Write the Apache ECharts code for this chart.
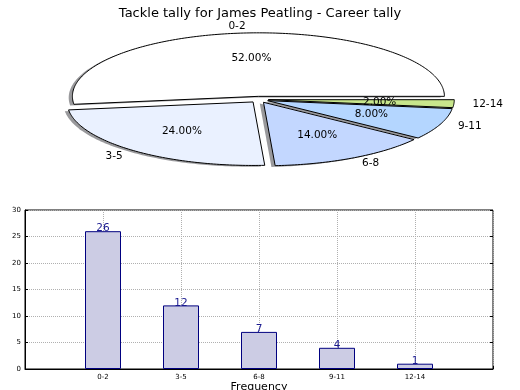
<!DOCTYPE html>
<html>
<head>
<meta charset="utf-8">
<script src="https://cdn.jsdelivr.net/npm/echarts@6/dist/echarts.min.js"></script>
<style>html,body{margin:0;padding:0;background:#fff}#c{width:520px;height:390px}</style>
</head>
<body>
<div id="c"></div>
<script>
// ---- data ----
const categories = ['0-2', '3-5', '6-8', '9-11', '12-14'];
const counts = [26, 12, 7, 4, 1];
const pieShares = [52, 24, 14, 8, 2];
const yTicks = [0, 5, 10, 15, 20, 25, 30];

// ---- styles ----
const pieColors = ['#ffffff', '#eaf1ff', '#c3d7ff', '#b4d6ff', '#c8e68c'];
const FONT = '"DejaVu Sans", sans-serif';
const EXPLODE = 0.05;

const total = pieShares.reduce((a, b) => a + b, 0);
function wedgeAngles(i) {
  let before = 0;
  for (let k = 0; k < i; k++) before += pieShares[k];
  const a0 = before / total * 2 * Math.PI;
  const a1 = (before + pieShares[i]) / total * 2 * Math.PI;
  return [a0, a1, (a0 + a1) / 2];
}
function wedgePoints(api, i, dx, dy) {
  const [a0, a1, m] = wedgeAngles(i);
  const ox = EXPLODE * Math.cos(m) + dx, oy = EXPLODE * Math.sin(m) + dy;
  const pts = [api.coord([ox, oy])];
  const n = Math.max(4, Math.ceil((a1 - a0) / (Math.PI / 180)));
  for (let s = 0; s <= n; s++) {
    const a = a0 + (a1 - a0) * s / n;
    pts.push(api.coord([ox + Math.cos(a), oy + Math.sin(a)]));
  }
  return pts;
}
const pieData = pieShares.map((v, i) => ({ value: [0, 0, v], name: categories[i] }));

const chart = echarts.init(document.getElementById('c'), null, { renderer: 'canvas' });
chart.setOption({
  animation: false,
  title: {
    text: 'Tackle tally for James Peatling - Career tally',
    left: 'center', top: 2,
    textStyle: { fontFamily: FONT, fontSize: 13, fontWeight: 'normal', color: '#000' }
  },
  grid: [
    { left: 73, top: 36, width: 372, height: 127, show: false, outerBoundsMode: 'none', containLabel: false },
    { left: 25, top: 210, width: 468, height: 159, show: true, borderColor: '#000', borderWidth: 1, backgroundColor: 'transparent', outerBoundsMode: 'none', containLabel: false }
  ],
  xAxis: [
    { gridIndex: 0, type: 'value', min: -1, max: 1, show: false },
    {
      gridIndex: 1, type: 'value', min: -1, max: 5, interval: 1,
      name: 'Frequency', nameLocation: 'middle', nameGap: 12,
      nameTextStyle: { fontFamily: FONT, fontSize: 11, color: '#000' },
      axisLine: { show: true, onZero: false, lineStyle: { color: '#000', width: 1 } },
      axisTick: { show: true, inside: true, length: 3, lineStyle: { color: '#000' } },
      axisLabel: {
        margin: 5, fontFamily: FONT, fontSize: 7, color: '#000',
        formatter: v => (categories[v] !== undefined ? categories[v] : '')
      },
      splitLine: { show: true, lineStyle: { type: 'dotted', color: '#b0b0b0', width: 1 } }
    }
  ],
  yAxis: [
    { gridIndex: 0, type: 'value', min: -1, max: 1, show: false },
    {
      gridIndex: 1, type: 'value', min: yTicks[0], max: yTicks[yTicks.length - 1], interval: 5,
      name: 'Stat Intervals', nameLocation: 'middle', nameGap: 13, nameRotate: 90,
      nameTextStyle: { fontFamily: FONT, fontSize: 11, color: '#000' },
      axisLine: { show: true, onZero: false, lineStyle: { color: '#000', width: 1 } },
      axisTick: { show: true, inside: true, length: 3, lineStyle: { color: '#000' } },
      axisLabel: { margin: 4, fontFamily: FONT, fontSize: 7, color: '#000' },
      splitLine: { show: true, lineStyle: { type: 'dotted', color: '#b0b0b0', width: 1 } }
    },
    {
      gridIndex: 1, type: 'value', min: 0, max: 30, interval: 5, position: 'right',
      axisLine: { show: false, onZero: false }, axisLabel: { show: false },
      axisTick: { show: true, inside: true, length: 3, lineStyle: { color: '#000' } },
      splitLine: { show: false }
    }
  ],
  series: [
    {
      type: 'custom', xAxisIndex: 0, yAxisIndex: 0, data: pieData, z: 1,
      renderItem: (params, api) => ({
        type: 'polygon',
        shape: { points: wedgePoints(api, params.dataIndex, -0.02, -0.02) },
        style: { fill: 'rgba(70,70,75,0.55)', stroke: null }
      })
    },
    {
      type: 'custom', xAxisIndex: 0, yAxisIndex: 0, data: pieData, z: 2,
      renderItem: (params, api) => ({
        type: 'polygon',
        shape: { points: wedgePoints(api, params.dataIndex, 0, 0) },
        style: { fill: pieColors[params.dataIndex], stroke: '#000', lineWidth: 1 }
      })
    },
    {
      type: 'custom', xAxisIndex: 0, yAxisIndex: 0, data: pieData, z: 3,
      renderItem: (params, api) => {
        const i = params.dataIndex;
        const m = wedgeAngles(i)[2];
        const ox = EXPLODE * Math.cos(m), oy = EXPLODE * Math.sin(m);
        const p = api.coord([ox + 0.6 * Math.cos(m), oy + 0.6 * Math.sin(m)]);
        const q = api.coord([ox + 1.1 * Math.cos(m), oy + 1.1 * Math.sin(m)]);
        return {
          type: 'group',
          children: [
            {
              type: 'text', x: p[0], y: p[1],
              style: { text: pieShares[i].toFixed(2) + '%', fill: '#000', align: 'center', verticalAlign: 'middle', fontFamily: FONT, fontSize: 10.5 }
            },
            {
              type: 'text', x: q[0], y: q[1],
              style: { text: categories[i], fill: '#000', align: Math.cos(m) > 0 ? 'left' : 'right', verticalAlign: 'middle', fontFamily: FONT, fontSize: 10.5 }
            }
          ]
        };
      }
    },
    {
      type: 'bar', xAxisIndex: 1, yAxisIndex: 1,
      data: counts.map((v, i) => [i, v]),
      barWidth: 36,
      itemStyle: { color: '#ccccE4', borderColor: '#000080', borderWidth: 1 },
      labelLine: { show: false },
      label: { show: true, position: 'top', distance: -3, color: '#1a1a90', fontFamily: FONT, fontSize: 10.5, formatter: p => String(p.value[1]) }
    }
  ]
});
</script>
</body>
</html>
